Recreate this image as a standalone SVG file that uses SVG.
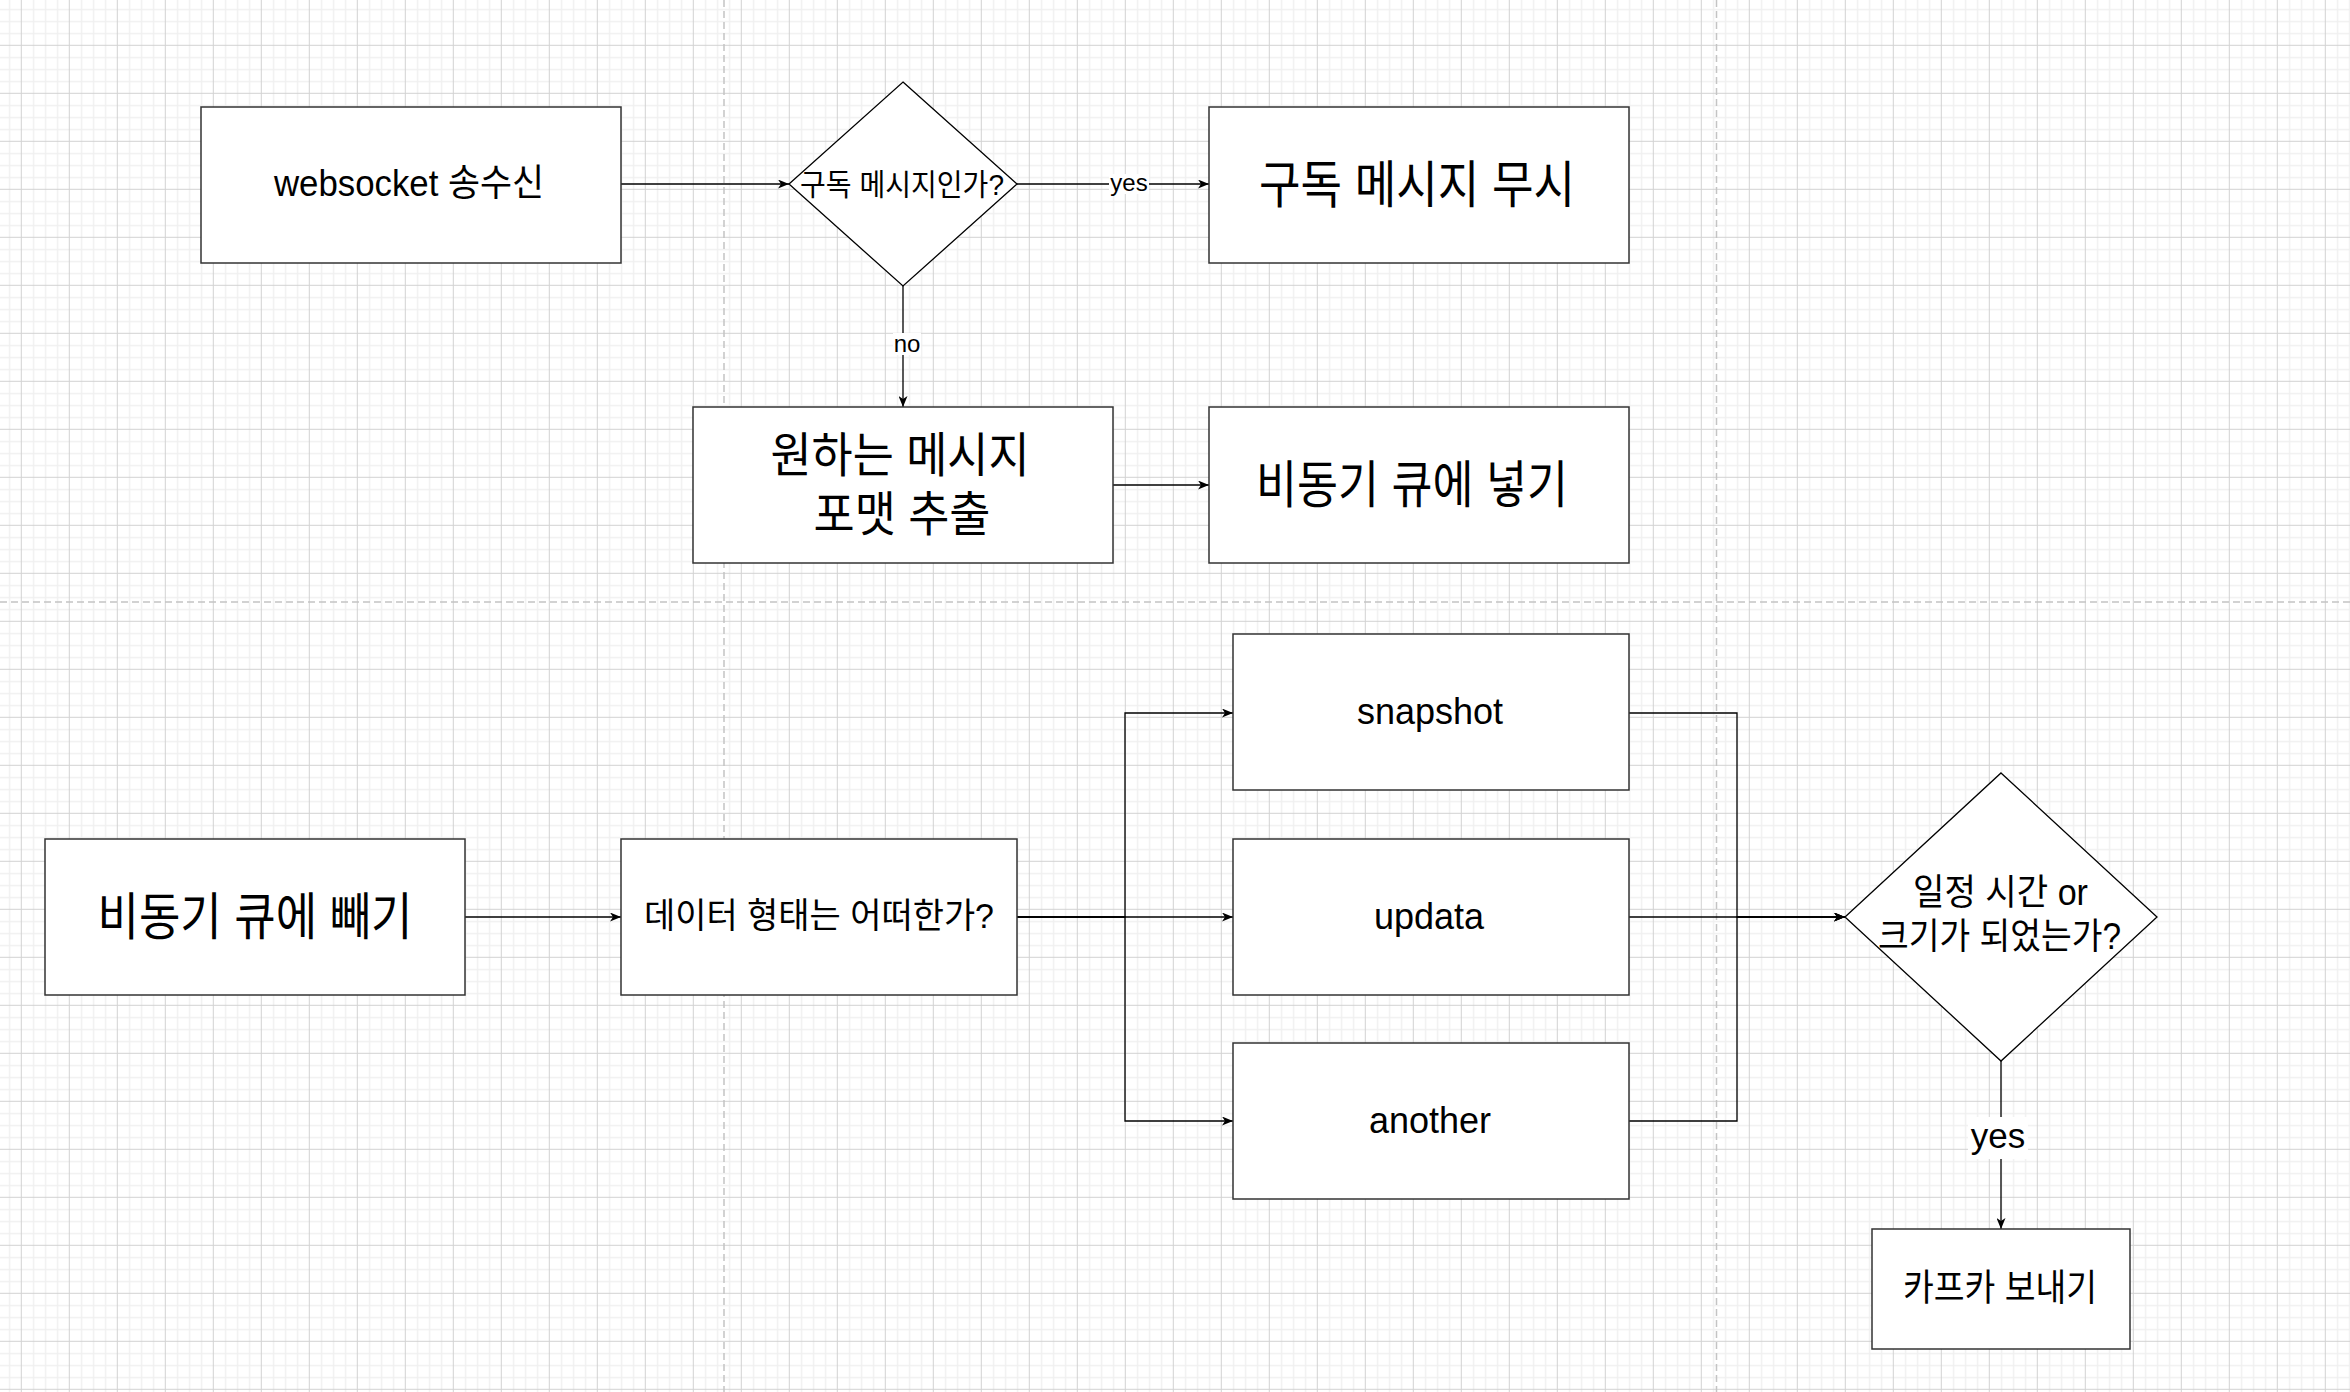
<svg xmlns="http://www.w3.org/2000/svg" width="2350" height="1392" viewBox="0 0 2350 1392">
  <defs>
    <pattern id="grid" patternUnits="userSpaceOnUse" x="20.8" y="44.8" width="48" height="48">
      <rect x="12" y="0" width="1.4" height="48" fill="#f0f0f0"/>
      <rect x="24" y="0" width="1.4" height="48" fill="#f0f0f0"/>
      <rect x="36" y="0" width="1.4" height="48" fill="#f0f0f0"/>
      <rect x="0" y="12" width="48" height="1.4" fill="#f0f0f0"/>
      <rect x="0" y="24" width="48" height="1.4" fill="#f0f0f0"/>
      <rect x="0" y="36" width="48" height="1.4" fill="#f0f0f0"/>
      <rect x="0" y="0" width="1" height="48" fill="#d2d2d2"/>
      <rect x="0" y="0" width="48" height="1" fill="#d2d2d2"/>
    </pattern>
    <marker id="arrow" viewBox="0 0 12 9" markerWidth="12" markerHeight="9" refX="11" refY="4.5" orient="auto" markerUnits="userSpaceOnUse">
      <path d="M0,0 L11,4.5 L0,9 L3,4.5 Z" fill="#000"/>
    </marker>
    <style>
      .box { fill: #fff; stroke: #333; stroke-width: 1.5; }
      .dia { fill: #fff; stroke: #000; stroke-width: 1.3; }
      .edge { fill: none; stroke: #000; stroke-width: 1.3; }
      .page { fill: none; stroke: #c4c4c4; stroke-width: 1.5; stroke-dasharray: 7 4; }
      .t { font-family: "Liberation Sans", "Noto Sans CJK KR", Arial, sans-serif; fill: #000; text-anchor: middle; }
      .lbg { fill: #fff; }
    </style>
  </defs>

  <rect x="0" y="0" width="2350" height="1392" fill="#fff"/>
  <rect x="0" y="0" width="2350" height="1392" fill="url(#grid)"/>

  <g id="page-breaks">
    <line class="page" x1="724" y1="0" x2="724" y2="1392"/>
    <line class="page" x1="1716.5" y1="0" x2="1716.5" y2="1392"/>
    <line class="page" x1="0" y1="602" x2="2350" y2="602"/>
  </g>

  <g id="connectors">
    <path class="edge" d="M621,184 L789,184" marker-end="url(#arrow)"/>
    <path class="edge" d="M1017,184 L1209,184" marker-end="url(#arrow)"/>
    <path class="edge" d="M903,286 L903,407" marker-end="url(#arrow)"/>
    <path class="edge" d="M1113,485 L1209,485" marker-end="url(#arrow)"/>
    <path class="edge" d="M465,917 L621,917" marker-end="url(#arrow)"/>
    <path class="edge" d="M1017,917 L1125,917 L1125,713 L1233,713" marker-end="url(#arrow)"/>
    <path class="edge" d="M1017,917 L1233,917" marker-end="url(#arrow)"/>
    <path class="edge" d="M1017,917 L1125,917 L1125,1121 L1233,1121" marker-end="url(#arrow)"/>
    <path class="edge" d="M1629,713 L1737,713 L1737,917 L1845,917" marker-end="url(#arrow)"/>
    <path class="edge" d="M1629,917 L1845,917" marker-end="url(#arrow)"/>
    <path class="edge" d="M1629,1121 L1737,1121 L1737,917 L1845,917" marker-end="url(#arrow)"/>
    <path class="edge" d="M2001,1061 L2001,1229" marker-end="url(#arrow)"/>
    <g id="edge-labels">
      <rect class="lbg" x="1109" y="174" width="40" height="20"/>
      <text class="t" x="1129" y="191" font-size="24">yes</text>
      <rect class="lbg" x="893" y="333" width="28" height="22"/>
      <text class="t" x="907" y="352" font-size="24">no</text>
      <rect class="lbg" x="1968" y="1117" width="60" height="42"/>
      <text class="t" x="1998" y="1148" font-size="35">yes</text>
    </g>
  </g>

  <g id="n-websocket">
    <rect class="box" x="201" y="107" width="420" height="156"/>
    <text class="t" x="409" y="196" font-size="37" textLength="270" lengthAdjust="spacingAndGlyphs">websocket 송수신</text>
  </g>

  <g id="n-is-subscribe">
    <polygon class="dia" points="903,82 1017,184 903,286 789,184"/>
    <text class="t" x="902" y="195" font-size="30" textLength="204" lengthAdjust="spacingAndGlyphs">구독 메시지인가?</text>
  </g>

  <g id="n-ignore">
    <rect class="box" x="1209" y="107" width="420" height="156"/>
    <text class="t" x="1417" y="203" font-size="51" textLength="316" lengthAdjust="spacingAndGlyphs">구독 메시지 무시</text>
  </g>

  <g id="n-extract">
    <rect class="box" x="693" y="407" width="420" height="156"/>
    <text class="t" x="900" y="472" font-size="48" textLength="259" lengthAdjust="spacingAndGlyphs">원하는 메시지</text>
    <text class="t" x="902" y="531" font-size="48" textLength="177" lengthAdjust="spacingAndGlyphs">포맷 추출</text>
  </g>

  <g id="n-enqueue">
    <rect class="box" x="1209" y="407" width="420" height="156"/>
    <text class="t" x="1412" y="503" font-size="51" textLength="312" lengthAdjust="spacingAndGlyphs">비동기 큐에 넣기</text>
  </g>

  <g id="n-dequeue">
    <rect class="box" x="45" y="839" width="420" height="156"/>
    <text class="t" x="255" y="935" font-size="51" textLength="315" lengthAdjust="spacingAndGlyphs">비동기 큐에 빼기</text>
  </g>

  <g id="n-datatype">
    <rect class="box" x="621" y="839" width="396" height="156"/>
    <text class="t" x="819" y="928" font-size="35" textLength="350" lengthAdjust="spacingAndGlyphs">데이터 형태는 어떠한가?</text>
  </g>

  <g id="n-snapshot">
    <rect class="box" x="1233" y="634" width="396" height="156"/>
    <text class="t" x="1430" y="724" font-size="36">snapshot</text>
  </g>

  <g id="n-updata">
    <rect class="box" x="1233" y="839" width="396" height="156"/>
    <text class="t" x="1429" y="929" font-size="36">updata</text>
  </g>

  <g id="n-another">
    <rect class="box" x="1233" y="1043" width="396" height="156"/>
    <text class="t" x="1430" y="1133" font-size="36">another</text>
  </g>

  <g id="n-time-size">
    <polygon class="dia" points="2001,773 2157,917 2001,1061 1845,917"/>
    <text class="t" x="2000.5" y="905" font-size="36" textLength="175" lengthAdjust="spacingAndGlyphs">일정 시간 or</text>
    <text class="t" x="1999.5" y="949" font-size="36" textLength="243" lengthAdjust="spacingAndGlyphs">크기가 되었는가?</text>
  </g>

  <g id="n-kafka">
    <rect class="box" x="1872" y="1229" width="258" height="120"/>
    <text class="t" x="2000" y="1301" font-size="37" textLength="194" lengthAdjust="spacingAndGlyphs">카프카 보내기</text>
  </g>
</svg>
